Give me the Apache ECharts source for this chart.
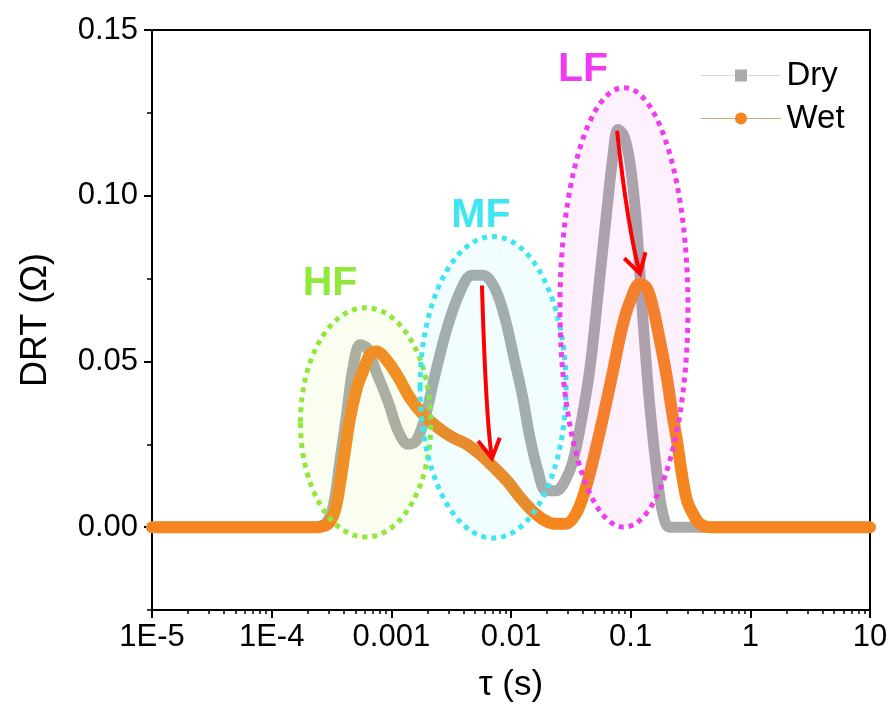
<!DOCTYPE html>
<html>
<head>
<meta charset="utf-8">
<script src="https://cdn.jsdelivr.net/npm/echarts@6/dist/echarts.min.js"></script>
<style>
  html, body { margin: 0; padding: 0; background: #fff; }
  #chart { width: 896px; height: 714px; }
</style>
</head>
<body>
<div id="chart"></div>
<script>
// Relaxation time τ (s) and DRT (Ω) for the dry cell
const dryTau = [1e-5, 2.09e-4, 2.79e-4, 3.25e-4, 3.72e-4, 4.26e-4, 4.78e-4, 5.47e-4, 6.26e-4, 7.45e-4,
  9.37e-4, 1.14e-3, 1.38e-3, 1.61e-3, 1.91e-3, 2.32e-3, 2.92e-3, 3.75e-3, 4.72e-3, 5.83e-3,
  7.34e-3, 8.91e-3, 1.06e-2, 1.24e-2, 1.44e-2, 1.68e-2, 1.96e-2, 2.38e-2, 2.83e-2, 3.30e-2,
  3.92e-2, 4.57e-2, 5.33e-2, 6.34e-2, 7.11e-2, 7.83e-2, 8.79e-2, 9.86e-2, 0.111, 0.127,
  0.145, 0.166, 0.186, 0.213, 0.379, 10];
const dryDrt = [0, 0, 0.001, 0.006, 0.020, 0.035, 0.048, 0.055, 0.054, 0.047,
  0.038, 0.029, 0.025, 0.026, 0.033, 0.046, 0.060, 0.071, 0.076, 0.076,
  0.072, 0.063, 0.051, 0.040, 0.027, 0.017, 0.011, 0.011, 0.014, 0.020,
  0.033, 0.048, 0.070, 0.096, 0.112, 0.120, 0.118, 0.110, 0.093, 0.062,
  0.036, 0.016, 0.004, 0, 0, 0];

// Relaxation time τ (s) and DRT (Ω) for the wet cell
const wetTau = [1e-5, 2.30e-4, 2.96e-4, 3.38e-4, 3.72e-4, 4.10e-4, 4.52e-4, 5.16e-4, 5.79e-4, 6.63e-4,
  7.59e-4, 8.85e-4, 1.11e-3, 1.43e-3, 1.84e-3, 2.46e-3, 3.27e-3, 4.29e-3, 5.51e-3, 7.21e-3,
  9.26e-3, 1.19e-2, 1.50e-2, 1.92e-2, 2.33e-2, 2.88e-2, 3.49e-2, 4.15e-2, 4.84e-2, 5.87e-2,
  7.11e-2, 8.45e-2, 9.86e-2, 0.120, 0.137, 0.154, 0.176, 0.201, 0.221, 0.244,
  0.268, 0.296, 0.332, 0.379, 0.460, 10];
const wetDrt = [0, 0, 0.001, 0.005, 0.013, 0.023, 0.033, 0.042, 0.047, 0.052,
  0.053, 0.051, 0.046, 0.039, 0.034, 0.030, 0.027, 0.025, 0.022, 0.018,
  0.014, 0.009, 0.005, 0.002, 0.001, 0.001, 0.004, 0.011, 0.020, 0.033,
  0.047, 0.060, 0.068, 0.0735, 0.072, 0.066, 0.056, 0.045, 0.035, 0.026,
  0.016, 0.008, 0.004, 0.001, 0, 0];

// Axis ticks
const xTickLabels = ['1E-5', '1E-4', '0.001', '0.01', '0.1', '1', '10'];
const xDecadeMin = -5, xDecadeMax = 1;
const yMajorTicks = [0, 0.05, 0.10, 0.15];
const yMinorTicks = [-0.025, 0.025, 0.075, 0.125];

// Peak regions (centre τ, centre DRT, half width in decades, half height in Ω)
const regionNames = ['HF', 'MF', 'LF'];
const regionTau = [6.1e-4, 7.08e-3, 8.79e-2];
const regionDrt = [0.0316, 0.0422, 0.0663];
const regionHalfDecades = [0.545, 0.61, 0.535];
const regionHalfDrt = [0.0346, 0.0455, 0.0663];
const regionLabelTau = [3.07e-4, 5.61e-3, 4.0e-2];
const regionLabelDrt = [0.0735, 0.094, 0.138];

// Arrows showing the peak drop from dry to wet (start, control, end)
const arrowTau = [[5.72e-3, 6.18e-3, 6.93e-3], [7.69e-2, 9.50e-2, 0.1197]];
const arrowDrt = [[0.0729, 0.0322, 0.0208], [0.1196, 0.0895, 0.0765]];

const FONT = '"Liberation Sans", Arial, Helvetica, sans-serif';
const regionStroke = ['#8fe83a', '#3ee6f2', '#f03cef'];
const regionFill = ['rgba(190,240,90,0.09)', 'rgba(60,230,240,0.07)', 'rgba(240,60,240,0.07)'];

// minor ticks on the log axis: 2..9 × each decade
const xMinor = [];
for (let d = xDecadeMin; d < xDecadeMax; d++) {
  for (let k = 2; k <= 9; k++) xMinor.push(d + Math.log10(k));
}

const lg = Math.log10;
const toPairs = (tau, drt) => tau.map((t, i) => [lg(t), drt[i]]);

const chart = echarts.init(document.getElementById('chart'), null, { renderer: 'canvas' });

const axisLineStyle = { color: '#000', width: 2 };

chart.setOption({
  animation: false,
  backgroundColor: '#fff',
  grid: { left: 152, top: 30, right: 26, bottom: 104, show: true, borderColor: '#000', borderWidth: 2, backgroundColor: 'transparent' },
  xAxis: [
    {
      type: 'value', min: xDecadeMin, max: xDecadeMax, interval: 1, position: 'bottom',
      axisLine: { show: true, onZero: false, lineStyle: axisLineStyle },
      axisTick: { show: true, inside: false, length: 8, lineStyle: { color: '#000', width: 2 } },
      axisLabel: {
        show: true, margin: 12, fontSize: 31, color: '#000', fontFamily: FONT,
        formatter: v => xTickLabels[Math.round(v) - xDecadeMin]
      },
      splitLine: { show: false },
      name: 'τ (s)', nameLocation: 'middle', nameGap: 58,
      nameTextStyle: { fontSize: 35, color: '#000', fontFamily: FONT }
    },
    {
      type: 'value', min: xDecadeMin, max: xDecadeMax, position: 'bottom',
      axisLine: { show: false, onZero: false },
      axisTick: { show: true, inside: false, length: 4, customValues: xMinor, lineStyle: { color: '#000', width: 1.5 } },
      axisLabel: { show: false },
      splitLine: { show: false }
    }
  ],
  yAxis: [
    {
      type: 'value', min: -0.025, max: 0.15, position: 'left',
      axisLine: { show: true, onZero: false, lineStyle: axisLineStyle },
      axisTick: { show: true, inside: false, length: 8, customValues: yMajorTicks, lineStyle: { color: '#000', width: 2 } },
      axisLabel: {
        show: true, margin: 14, fontSize: 31, color: '#000', fontFamily: FONT,
        customValues: yMajorTicks, formatter: v => v.toFixed(2)
      },
      splitLine: { show: false },
      name: 'DRT (Ω)', nameLocation: 'middle', nameGap: 98,
      nameTextStyle: { fontSize: 36, color: '#000', fontFamily: FONT }
    },
    {
      type: 'value', min: -0.025, max: 0.15, position: 'left',
      axisLine: { show: false, onZero: false },
      axisTick: { show: true, inside: false, length: 5, customValues: yMinorTicks, lineStyle: { color: '#000', width: 1.5 } },
      axisLabel: { show: false },
      splitLine: { show: false }
    }
  ],
  legend: {
    orient: 'vertical', left: 696, top: 54,
    itemWidth: 79, itemHeight: 15, itemGap: 10,
    textStyle: { fontSize: 33, color: '#000', fontFamily: FONT, padding: [0, 0, 0, 1] },
    data: [
      { name: 'Dry', lineStyle: { width: 1, color: '#d8d8d8' }, itemStyle: { color: '#aaaaaa' } },
      { name: 'Wet', lineStyle: { width: 1, color: '#d6a676' }, itemStyle: { color: '#f5861f' } }
    ]
  },
  series: [
    {
      name: 'Dry', type: 'line', xAxisIndex: 0, yAxisIndex: 0,
      data: toPairs(dryTau, dryDrt),
      smooth: 0.35,
      symbol: 'rect', symbolSize: 13, showSymbol: false,
      lineStyle: { width: 11, color: '#a9a9a9', join: 'round', cap: 'round' },
      itemStyle: { color: '#a9a9a9' },
      z: 2
    },
    {
      name: 'Wet', type: 'line', xAxisIndex: 0, yAxisIndex: 0,
      data: toPairs(wetTau, wetDrt),
      smooth: 0.35,
      symbol: 'circle', symbolSize: 15, showSymbol: false,
      lineStyle: { width: 12, color: '#f5861f', join: 'round', cap: 'round' },
      itemStyle: { color: '#f5861f' },
      z: 3
    }
  ]
});

// Annotations placed in data space
function px(tau, drt) {
  return chart.convertToPixel({ xAxisIndex: 0, yAxisIndex: 0 }, [lg(tau), drt]);
}

const graphics = [];
regionNames.forEach((name, i) => {
  const c = px(regionTau[i], regionDrt[i]);
  const e = chart.convertToPixel({ xAxisIndex: 0, yAxisIndex: 0 },
    [lg(regionTau[i]) + regionHalfDecades[i], regionDrt[i] + regionHalfDrt[i]]);
  graphics.push({
    type: 'ellipse', z: 10,
    shape: { cx: c[0], cy: c[1], rx: Math.abs(e[0] - c[0]), ry: Math.abs(c[1] - e[1]) },
    style: { fill: regionFill[i], stroke: regionStroke[i], lineWidth: 5, lineDash: [5, 5] }
  });
  const l = px(regionLabelTau[i], regionLabelDrt[i]);
  graphics.push({
    type: 'text', z: 11, x: l[0], y: l[1],
    style: { text: name, fill: regionStroke[i], font: 'bold 41px ' + FONT, align: 'center', verticalAlign: 'middle' }
  });
});

arrowTau.forEach((taus, i) => {
  const p0 = px(taus[0], arrowDrt[i][0]);
  const p1 = px(taus[1], arrowDrt[i][1]);
  const p2 = px(taus[2], arrowDrt[i][2]);
  graphics.push({
    type: 'bezierCurve', z: 12,
    shape: { x1: p0[0], y1: p0[1], cpx1: p1[0], cpy1: p1[1], x2: p2[0], y2: p2[1] },
    style: { stroke: '#ff0000', lineWidth: 4, fill: null }
  });
  const ang = Math.atan2(p2[1] - p1[1], p2[0] - p1[0]);
  const len = 22, spread = Math.PI / 6;
  const w1 = [p2[0] - len * Math.cos(ang - spread), p2[1] - len * Math.sin(ang - spread)];
  const w2 = [p2[0] - len * Math.cos(ang + spread), p2[1] - len * Math.sin(ang + spread)];
  graphics.push({
    type: 'polyline', z: 12,
    shape: { points: [w1, p2, w2] },
    style: { stroke: '#ff0000', lineWidth: 4, fill: null, lineJoin: 'miter' }
  });
});

chart.setOption({ graphic: graphics });
</script>
</body>
</html>
